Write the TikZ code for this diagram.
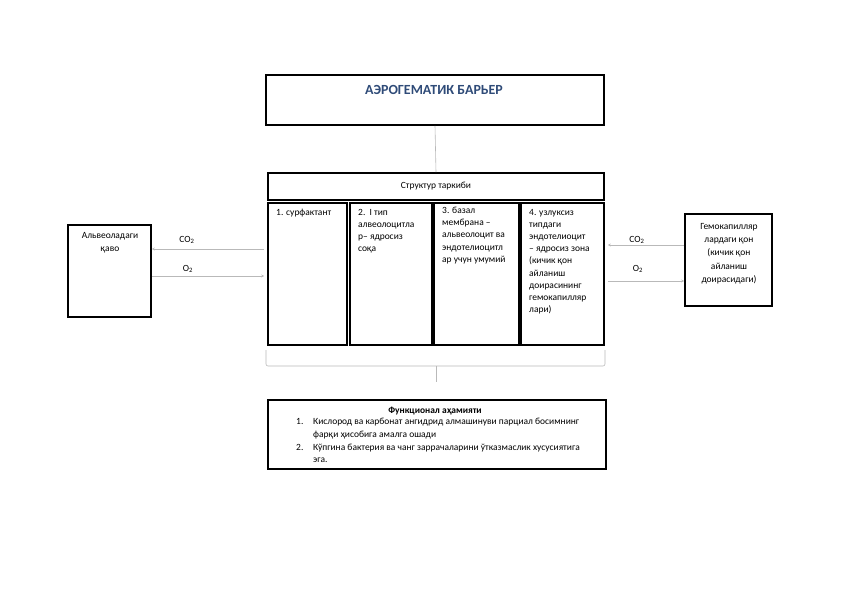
\documentclass[tikz,border=0pt]{standalone}
\usepackage{fontspec}
\setmainfont{Carlito}
\usetikzlibrary{arrows.meta}
\definecolor{titleblue}{RGB}{47,75,120}
\definecolor{linegray}{RGB}{185,185,185}

\begin{document}
\begin{tikzpicture}[x=1bp,y=-1bp,
  box/.style={draw, line width=1.6bp, inner sep=0pt},
  txt/.style={inner sep=0pt, align=left, anchor=north west, font=\fontsize{9.5}{12.2}\selectfont},
  ctxt/.style={inner sep=0pt, align=center, font=\fontsize{9.5}{13.3}\selectfont},
  conn/.style={draw=linegray, line width=0.6bp},
  gas/.style={conn, -{Stealth[length=3bp,width=3bp]}}]
\useasboundingbox (0,0) rectangle (842,596);

\node [box, minimum width=338bp, minimum height=50bp] (title) at (435,100) {};
\node [font=\bfseries\fontsize{14}{16}\selectfont, text=titleblue, inner sep=0pt] (titletxt) at (434,89.5) {АЭРОГЕМАТИК БАРЬЕР};

\node [box, minimum width=336bp, minimum height=27bp] (struct) at (436,186.5) {};
\node [ctxt] (structtxt) at (436,186) {Структур таркиби};
\draw [conn] (title.south) -- (struct.north);

% columns
\node [box, minimum width=79bp, minimum height=142bp] (c1) at (307.5,274) {};
\node [box, minimum width=82bp, minimum height=142bp] (c2) at (391,274) {};
\node [box, minimum width=85bp, minimum height=142bp] (c3) at (476.5,274) {};
\node [box, minimum width=83bp, minimum height=142bp] (c4) at (562.5,274) {};
\node [txt] (t1) at (276,209) {1. сурфактант};
\node [txt] (t2) at (358,209) {2.\ \ І тип\\алвеолоцитла\\р– ядросиз\\соқа};
\node [txt] (t3) at (442,207) {3. базал\\мембрана –\\альвеолоцит ва\\эндотелиоцитл\\ар учун умумий};
\node [txt] (t4) at (529,209) {4. узлуксиз\\типдаги\\эндотелиоцит\\– ядросиз зона\\(кичик қон\\айланиш\\доирасининг\\гемокапилляр\\лари)};

% sides
\node [box, minimum width=83bp, minimum height=92bp] (alv) at (109.5,271) {};
\node [ctxt, anchor=north] (alvtxt) at (110,232) {Альвеоладаги\\қаво};
\node [box, minimum width=87bp, minimum height=92bp] (hem) at (728.5,260) {};
\node [ctxt, anchor=north] (hemtxt) at (729,223) {Гемокапилляр\\лардаги қон\\(кичик қон\\айланиш\\доирасидаги)};

\coordinate (lco) at (0,249);
\coordinate (lo) at (0,276);
\coordinate (rco) at (0,245);
\coordinate (ro) at (0,281);
\draw [gas] ([xshift=-3bp]c1.west |- lco) -- (alv.east |- lco);
\draw [gas] (alv.east |- lo) -- ([xshift=-3bp]c1.west |- lo);
\draw [gas] (hem.west |- rco) -- ([xshift=3bp]c4.east |- rco);
\draw [gas] ([xshift=3bp]c4.east |- ro) -- (hem.west |- ro);
\node [ctxt] (lcotxt) at (187,240) {CO\textsubscript{2}};
\node [ctxt] (lotxt) at (188,269) {O\textsubscript{2}};
\node [ctxt] (rcotxt) at (637,240) {CO\textsubscript{2}};
\node [ctxt] (rotxt) at (638,269) {O\textsubscript{2}};

% brace
\draw [conn, rounded corners=2bp] (266,350) -- (266,366) -- (605,366) -- (605,350);
\draw [conn] (436,366) -- (436,382);

\node [box, minimum width=338bp, minimum height=69bp] (func) at (437,434.5) {};
\node [ctxt, font=\bfseries\fontsize{9.5}{12}\selectfont] (functitle) at (435,411) {Функционал аҳамияти};
\node [txt, font=\fontsize{9.5}{12.8}\selectfont] (functxt) at (296,418) {\makebox[17bp][l]{1.}Кислород ва карбонат ангидрид алмашинуви парциал босимнинг\\\hspace*{17bp}фарқи ҳисобига амалга ошади\\\makebox[17bp][l]{2.}Кўпгина бактерия ва чанг заррачаларини ўтказмаслик хусусиятига\\\hspace*{17bp}эга.};
\end{tikzpicture}
\end{document}
